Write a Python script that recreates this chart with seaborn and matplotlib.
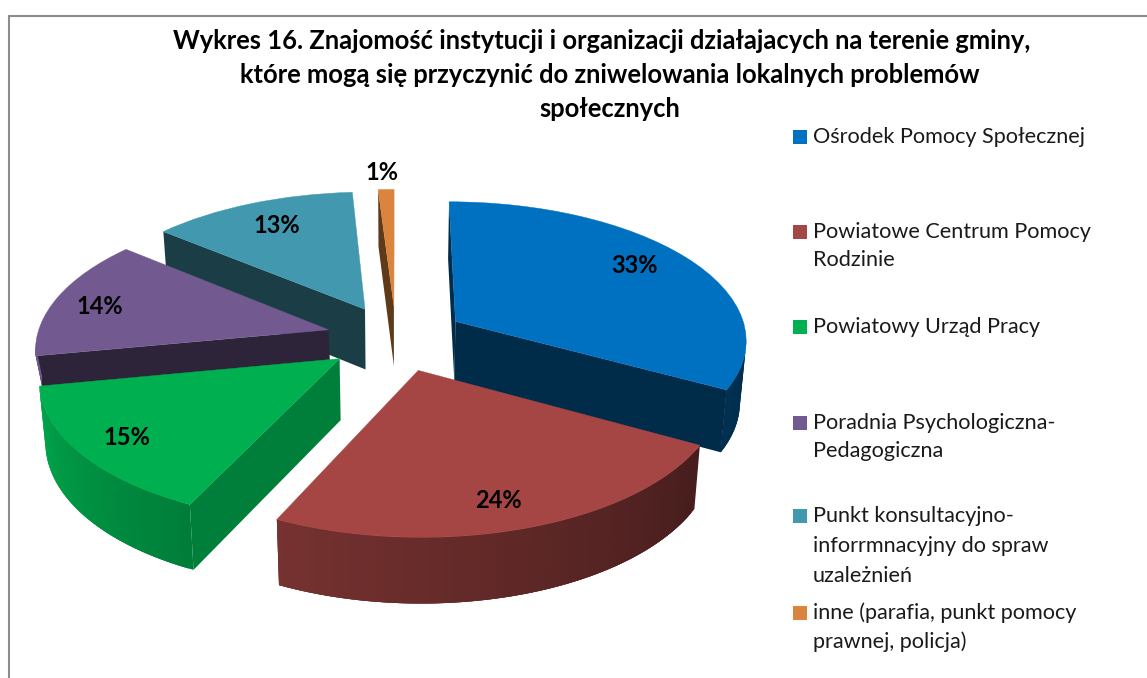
import numpy as np
import matplotlib
matplotlib.use("Agg")
import matplotlib.pyplot as plt
import matplotlib.transforms as mtransforms
from matplotlib.patches import Polygon, Rectangle
import seaborn as sns

# ---- data ----
categories = [
    "Ośrodek Pomocy Społecznej",
    "Powiatowe Centrum Pomocy\nRodzinie",
    "Powiatowy Urząd Pracy",
    "Poradnia Psychologiczna-\nPedagogiczna",
    "Punkt konsultacyjno-\ninforrmnacyjny do spraw\nuzależnień",
    "inne (parafia, punkt pomocy\nprawnej, policja)",
]
values = [33, 24, 15, 14, 13, 1]
title_lines = [
    "Wykres 16. Znajomość instytucji i organizacji działajacych na terenie gminy,",
    "które mogą się przyczynić do zniwelowania lokalnych problemów",
    "społecznych",
]

# ---- style ----
sns.set_theme(style="white")
plt.rcParams["font.family"] = ["Lato", "DejaVu Sans"]
palette = sns.color_palette(["#0070C0", "#A64644", "#00B050", "#725A91", "#4198AF", "#DB843D"])
cut_shade = [0.38, 0.42, 0.72, 0.40, 0.40, 0.43]
paint_rank = [3, 5, 4, 2, 1, 0]   # back to front

# ---- layout (pixels) ----
CX, CY, RX, RY, K = 396.0, 338.0, 292.0, 138.0, 0.122
EXPLODE = 0.24
WALL_CONVERGE = 0.018
slice_depth = [61, 61, 61, 31, 61, 61]
label_nudge = [(-7, -4), (-4, 7), (-9, 4), (-11, 3), (5, 2), (-3, 1)]
title_pos = [(601.5, 41), (610, 75), (610, 109)]
legend_x, legend_text_x = 793, 813
legend_rows = [[137], [232, 260], [327], [423, 451], [516, 546, 576], [613, 642]]


class Perspective(mtransforms.Transform):
    """Maps the pie's plane to pixel positions with a tilted-camera projection."""
    input_dims = output_dims = 2
    is_separable = False
    has_inverse = False

    def transform_non_affine(self, values):
        values = np.asarray(values, float)
        w = 1 + K * values[:, 1]
        return np.column_stack([CX + RX * values[:, 0] / w, CY - RY * values[:, 1] / w])


def arc_shade(theta):
    return np.interp(theta, [-170, -115, -29, 0], [0.95, 0.71, 0.42, 0.40])


def shaded(color, f):
    return tuple(c * f for c in color)


fig = plt.figure(figsize=(11.47, 6.78), dpi=100)
ax = fig.add_axes([0, 0, 1, 1])
wedges, _, autotexts = ax.pie(
    values, explode=[EXPLODE] * len(values), startangle=90, counterclock=False,
    colors=palette, autopct="%.0f%%", pctdistance=0.8, frame=True,
    wedgeprops={"linewidth": 0},
    textprops={"fontsize": 17, "fontweight": "bold", "color": "black"},
)
ax.set_aspect("auto")
ax.set_xlim(0, 1147)
ax.set_ylim(678, 0)
ax.axis("off")

persp = Perspective()
to_screen = persp + ax.transData

for i, (w, txt) in enumerate(zip(wedges, autotexts)):
    z = 2 + paint_rank[i]
    w.set_transform(to_screen)
    w.set_clip_on(False)
    w.set_zorder(z + 0.5)
    w.set_edgecolor(palette[i])
    w.set_linewidth(0.3)
    dx, dy = label_nudge[i]
    txt.set_transform(to_screen + mtransforms.Affine2D().translate(dx, -dy))
    txt.set_zorder(20)

    # side walls, derived from the wedge geometry
    c = np.array(w.center)
    thetas = np.linspace(w.theta2, w.theta1, 60)
    arc = c + np.column_stack([np.cos(np.radians(thetas)), np.sin(np.radians(thetas))])
    plane = np.vstack([c, arc])
    scr = persp.transform_non_affine(plane)
    w_fac = 1 + K * plane[:, 1]
    depth = slice_depth[i]
    n = len(scr)
    low = np.column_stack([scr[:, 0] + (CX - scr[:, 0]) * WALL_CONVERGE,
                           scr[:, 1] + depth / np.sqrt(w_fac)])
    # screen polygon runs clockwise on screen (y down): outward normal = (dy, -dx)
    for j in range(n):
        a, b = j, (j + 1) % n
        d = scr[b] - scr[a]
        if -d[0] <= 0:
            continue
        is_arc = (1 <= a) and (b >= 1) and b != 0
        if is_arc:
            f = arc_shade(((thetas[a - 1] + thetas[b - 1]) / 2 + 180) % 360 - 180)
            # overlap the next strip so no seams show between the strips
            e = min(b + 2, n - 1)
            idx = list(range(a, e + 1))
        else:
            f = cut_shade[i]
            idx = [a, b]
        outline = [scr[k] for k in idx] + [low[k] for k in reversed(idx)]
        ax.add_patch(Polygon(outline, closed=True, facecolor=shaded(palette[i], f),
                             edgecolor="none", linewidth=0, zorder=z, clip_on=False))

# small slice's label sits outside the pie
m = np.radians((wedges[5].theta1 + wedges[5].theta2) / 2)
autotexts[5].set_position(np.array(wedges[5].center) + 1.18 * np.array([np.cos(m), np.sin(m)]))

# frame
ax.plot([8.5, 8.5], [678, 16], color="#8c8c8c", lw=1.5, zorder=1, clip_on=False)
ax.plot([8.5, 1147], [16, 16], color="#8c8c8c", lw=1.5, zorder=1, clip_on=False)

# title
for (x, y), line in zip(title_pos, title_lines):
    ax.text(x, y, line, ha="center", va="center", fontsize=18.4, fontweight="bold", color="black")

# legend
for label, rows, col in zip(categories, legend_rows, palette):
    ax.add_patch(Rectangle((legend_x, rows[0] - 7), 14, 14, facecolor=col, edgecolor="none"))
    for y, line in zip(rows, label.split("\n")):
        ax.text(legend_text_x, y, line, ha="left", va="center", fontsize=15.6, color="#1a1a1a")

fig.savefig("out.png", dpi=100, facecolor="white")
